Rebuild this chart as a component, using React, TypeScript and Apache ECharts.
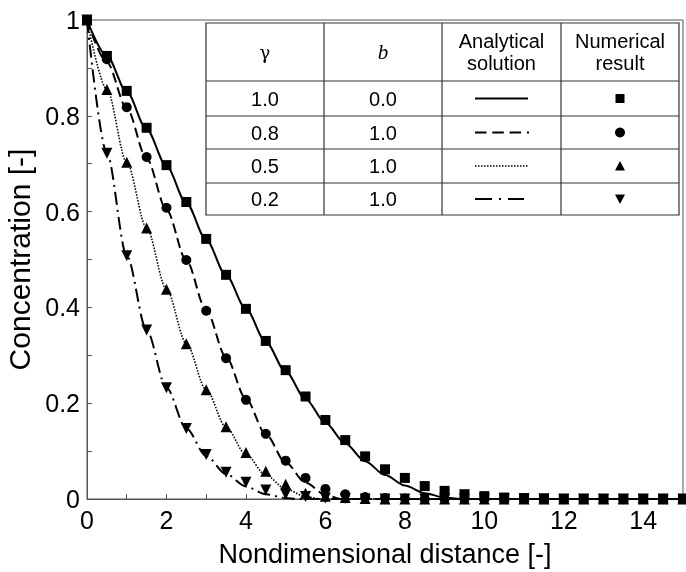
import React, { useEffect, useRef } from "react";
import * as echarts from "echarts";

// ---------- data ----------
const xs = [0, 0.5, 1, 1.5, 2, 2.5, 3, 3.5, 4, 4.5, 5, 5.5, 6, 6.5, 7, 7.5, 8, 8.5, 9, 9.5, 10, 10.5, 11, 11.5, 12, 12.5, 13, 13.5, 14, 14.5, 15];

// numerical results (markers)
const squares = [1, 0.925, 0.852, 0.775, 0.697, 0.62, 0.543, 0.468, 0.397, 0.33, 0.269, 0.214, 0.165, 0.123, 0.089, 0.062, 0.044, 0.027, 0.017, 0.01, 0.006, 0.003, 0.002, 0.001, 0, 0, 0, 0, 0, 0, 0];
const circles = [1, 0.918, 0.818, 0.714, 0.608, 0.499, 0.393, 0.294, 0.207, 0.136, 0.08, 0.044, 0.021, 0.01, 0.004, 0.002, 0.001, 0, 0, 0, 0, 0, 0, 0, 0, 0, 0, 0, 0, 0, 0];
const triangles = [1, 0.855, 0.703, 0.566, 0.438, 0.324, 0.228, 0.151, 0.097, 0.058, 0.031, 0.012, 0.006, 0.003, 0.001, 0, 0, 0, 0, 0, 0, 0, 0, 0, 0, 0, 0, 0, 0, 0, 0];
const invTriangles = [1, 0.722, 0.508, 0.353, 0.232, 0.147, 0.093, 0.056, 0.035, 0.019, 0.01, 0.005, 0.002, 0.001, 0, 0, 0, 0, 0, 0, 0, 0, 0, 0, 0, 0, 0, 0, 0, 0, 0];

// analytical solutions (lines), [x, y]
const solidCurve = [[0, 1], [0.5, 0.925], [1, 0.85], [1.5, 0.772], [2, 0.695], [2.5, 0.618], [3, 0.541], [3.5, 0.467], [4, 0.397], [4.5, 0.328], [5, 0.266], [5.5, 0.209], [6, 0.159], [6.5, 0.116], [7, 0.079], [7.5, 0.05], [8, 0.028], [8.5, 0.012], [9, 0.003], [9.4, 0], [15, 0]];
const dashedCurve = [[0, 1], [0.5, 0.912], [1, 0.816], [1.5, 0.711], [2, 0.604], [2.5, 0.498], [3, 0.394], [3.5, 0.296], [4, 0.209], [4.5, 0.135], [5, 0.076], [5.5, 0.034], [6, 0.009], [6.4, 0], [15, 0]];
const dottedCurve = [[0, 1], [0.5, 0.855], [1, 0.703], [1.5, 0.566], [2, 0.438], [2.5, 0.325], [3, 0.228], [3.5, 0.15], [4, 0.093], [4.5, 0.05], [5, 0.021], [5.5, 0.005], [5.9, 0], [15, 0]];
const dashDotCurve = [[0, 1], [0.5, 0.722], [1, 0.508], [1.5, 0.353], [2, 0.232], [2.5, 0.147], [3, 0.09], [3.5, 0.052], [4, 0.026], [4.5, 0.01], [5, 0.002], [5.3, 0], [15, 0]];

// table
const tableHeaders = ["γ", "b", "Analytical\nsolution", "Numerical\nresult"];
const tableGamma = ["1.0", "0.8", "0.5", "0.2"];
const tableB = ["0.0", "1.0", "1.0", "1.0"];

const FONT = "'Liberation Sans', Arial, Helvetica, sans-serif";

function pairs(ys: number[]) {
  return xs.map((x, i) => [x, ys[i]]);
}

export default function App() {
  const ref = useRef<HTMLDivElement>(null);
  useEffect(() => {
    if (!ref.current) return;
    const chart = echarts.init(ref.current, null, { renderer: "svg" });

    const colX = [206, 324, 442, 561, 679];
    const rowY = [23, 81, 116, 149, 183, 215];
    const lineColor = "#333";
    const graphics: any[] = [];
    graphics.push({
      type: "rect",
      shape: { x: colX[0], y: rowY[0], width: colX[4] - colX[0], height: rowY[5] - rowY[0] },
      style: { fill: "#fff", stroke: lineColor, lineWidth: 1.2 },
      z: 100,
    });
    for (let i = 1; i < rowY.length - 1; i++) {
      graphics.push({
        type: "line",
        shape: { x1: colX[0], y1: rowY[i], x2: colX[4], y2: rowY[i] },
        style: { stroke: lineColor, lineWidth: 1.2 },
        z: 101,
      });
    }
    for (let j = 1; j < colX.length - 1; j++) {
      graphics.push({
        type: "line",
        shape: { x1: colX[j], y1: rowY[0], x2: colX[j], y2: rowY[5] },
        style: { stroke: lineColor, lineWidth: 1.2 },
        z: 101,
      });
    }
    const cx = (j: number) => (colX[j] + colX[j + 1]) / 2;
    const cy = (i: number) => (rowY[i] + rowY[i + 1]) / 2;
    const txt = (text: string, x: number, y: number, extra: any = {}) => ({
      type: "text",
      z: 102,
      style: {
        text,
        x,
        y,
        fill: "#000",
        fontSize: 20,
        fontFamily: FONT,
        align: "center",
        verticalAlign: "middle",
        textAlign: "center",
        textVerticalAlign: "middle",
        lineHeight: 22,
        ...extra,
      },
    });
    graphics.push(txt(tableHeaders[0], cx(0), cy(0), { fontFamily: "'DejaVu Serif', 'Liberation Serif', serif", fontSize: 18 }));
    graphics.push(txt(tableHeaders[1], cx(1), cy(0), { fontFamily: "'Liberation Serif', serif", fontStyle: "italic", fontSize: 21 }));
    graphics.push(txt(tableHeaders[2], cx(2), cy(0)));
    graphics.push(txt(tableHeaders[3], cx(3), cy(0)));
    tableGamma.forEach((g, i) => {
      graphics.push(txt(g, cx(0), cy(i + 1)));
      graphics.push(txt(tableB[i], cx(1), cy(i + 1)));
    });
    const dashes: any[] = [null, [11.5, 5.8], [1.5, 1.5], [17, 7, 2, 7]];
    const widths = [2, 2, 1.5, 2];
    const ends = [528, 529, 528, 524];
    for (let i = 0; i < 4; i++) {
      const y = cy(i + 1);
      graphics.push({
        type: "line",
        z: 102,
        shape: { x1: 475, y1: y, x2: ends[i], y2: y },
        style: { stroke: "#000", lineWidth: widths[i], lineDash: dashes[i] || undefined },
      });
    }
    const mx = cx(3);
    graphics.push({ type: "rect", z: 102, shape: { x: mx - 4.5, y: cy(1) - 4.5, width: 9, height: 9 }, style: { fill: "#000" } });
    graphics.push({ type: "circle", z: 102, shape: { cx: mx, cy: cy(2), r: 5 }, style: { fill: "#000" } });
    graphics.push({ type: "polygon", z: 102, shape: { points: [[mx, cy(3) - 5], [mx + 5, cy(3) + 4.5], [mx - 5, cy(3) + 4.5]] }, style: { fill: "#000" } });
    graphics.push({ type: "polygon", z: 102, shape: { points: [[mx, cy(4) + 5], [mx + 5, cy(4) - 4.5], [mx - 5, cy(4) - 4.5]] }, style: { fill: "#000" } });

    const lineSeries = (data: number[][], type: any, width: number) => ({
      type: "line",
      data,
      showSymbol: false,
      symbol: "none",
      smooth: 0.3,
      smoothMonotone: "x",
      lineStyle: { color: "#000", width, type, opacity: 1 },
      z: 2,
    });
    const markerSeries = (ys: number[], symbol: string, size: number, rotate = 0) => ({
      type: "scatter",
      data: pairs(ys),
      symbol,
      symbolSize: size,
      symbolRotate: rotate,
      itemStyle: { color: "#000", opacity: 1 },
      z: 3,
    });

    chart.setOption({
      animation: false,
      textStyle: { fontFamily: FONT },
      grid: {
        left: 87,
        right: 3,
        top: 20,
        bottom: 73,
        show: true,
        borderColor: "#555",
        borderWidth: 1,
        containLabel: false,
        outerBoundsMode: "none",
      },
      xAxis: {
        type: "value",
        min: 0,
        max: 15,
        interval: 2,
        name: "Nondimensional distance [-]",
        nameLocation: "middle",
        nameGap: 41,
        nameTextStyle: { fontSize: 27, color: "#000", fontFamily: FONT },
        axisLine: { lineStyle: { color: "#555", width: 1 } },
        axisTick: { inside: true, length: 5, lineStyle: { color: "#555" } },
        minorTick: { show: true, splitNumber: 2, length: 5, lineStyle: { color: "#555" } },
        splitLine: { show: false },
        axisLabel: { fontSize: 25, color: "#000", margin: 8, showMaxLabel: false, fontFamily: FONT },
      },
      yAxis: {
        type: "value",
        min: 0,
        max: 1,
        interval: 0.2,
        name: "Concentration [-]",
        nameLocation: "middle",
        nameGap: 49,
        nameTextStyle: { fontSize: 30, color: "#000", fontFamily: FONT },
        axisLine: { show: true, lineStyle: { color: "#555", width: 1 } },
        axisTick: { show: true, inside: true, length: 5, lineStyle: { color: "#555" } },
        minorTick: { show: true, splitNumber: 2, length: 5, lineStyle: { color: "#555" } },
        splitLine: { show: false },
        axisLabel: { fontSize: 25, color: "#000", margin: 7, fontFamily: FONT },
      },
      series: [
        lineSeries(solidCurve, "solid", 2),
        lineSeries(dashedCurve, [10, 5], 2),
        lineSeries(dottedCurve, [1.5, 1.5], 1.6),
        lineSeries(dashDotCurve, [13, 5, 2, 5], 2),
        markerSeries(invTriangles, "triangle", 11, 180),
        markerSeries(triangles, "triangle", 11),
        markerSeries(circles, "circle", 10),
        markerSeries(squares, "rect", 10),
      ],
      graphic: graphics,
    });
    return () => chart.dispose();
  }, []);
  return <div ref={ref} style={{ position: "fixed", left: 0, top: 0, width: 686, height: 572 }} />;
}
